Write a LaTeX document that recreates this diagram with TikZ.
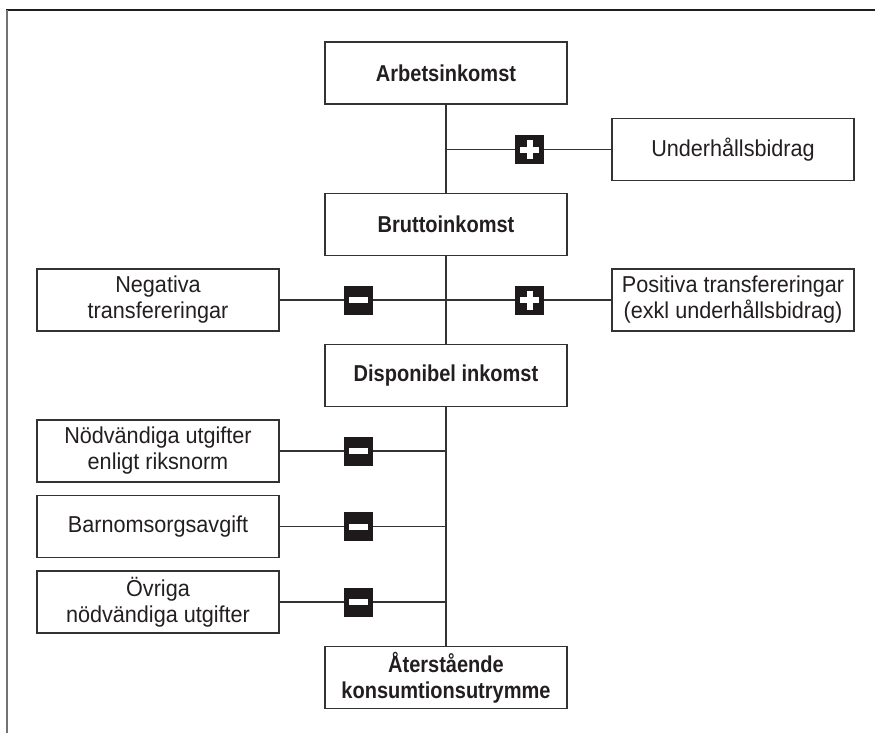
\documentclass[tikz,border=0pt]{standalone}
\usepackage{fontspec}
\setmainfont{Liberation Sans}[FakeStretch=0.94, BoldFeatures={FakeStretch=0.87}]
\definecolor{linec}{HTML}{333333}
\definecolor{textc}{HTML}{231F20}
\definecolor{signc}{HTML}{1E1A1B}
\begin{document}
\begin{tikzpicture}[x=1pt,y=-1pt,
  box/.style={draw=linec, line width=1.2pt, minimum width=242pt, minimum height=62pt,
    inner sep=0pt, align=center, text=textc, font=\fontsize{23}{26}\selectfont},
  mainbox/.style={box, font=\fontsize{23}{26}\selectfont\bfseries},
  conn/.style={draw=linec, line width=1.2pt},
  sign/.style={fill=signc, minimum size=29pt, inner sep=0pt},
  plussign/.style={sign, path picture={
    \fill[white] ([xshift=-9.5pt,yshift=-3pt]path picture bounding box.center) rectangle ++(19pt,6pt);
    \fill[white] ([xshift=-3pt,yshift=-9.5pt]path picture bounding box.center) rectangle ++(6pt,19pt);}},
  minussign/.style={sign, path picture={
    \fill[white] ([xshift=-9.5pt,yshift=-3pt]path picture bounding box.center) rectangle ++(19pt,6pt);}},
  frametop/.style={draw=black!88, line width=1.6pt},
  frameleft/.style={draw=black!55, line width=1.8pt},
]
\useasboundingbox (0,0) rectangle (875,733);
\fill[white] (0,0) rectangle (875,733);
\draw[frametop] (6,10) -- (875,10);
\draw[frameleft] (7,10) -- (7,733);

% main column
\node[mainbox] (A) at (446,73) {Arbetsinkomst};
\node[mainbox] (B) at (446,224.5) {Bruttoinkomst};
\node[mainbox] (D) at (446,375.5) {Disponibel inkomst};
\node[mainbox] (E) at (446,677.5) {Återstående\\konsumtionsutrymme};

% side boxes
\node[box] (U) at (733,149.5) {Underhållsbidrag};
\node[box] (N) at (158,300) {Negativa\\transfereringar};
\node[box] (P) at (733,300) {Positiva transfereringar\\(exkl underhållsbidrag)};
\node[box] (R1) at (158,451) {Nödvändiga utgifter\\enligt riksnorm};
\node[box] (R2) at (158,526.5) {Barnomsorgsavgift};
\node[box] (R3) at (158,602) {Övriga\\nödvändiga utgifter};

% vertical spine
\draw[conn] (A) -- (B);
\draw[conn] (B) -- (D);
\draw[conn] (D) -- (E);

% sign markers
\node[plussign] (s1) at (529.5,149.5) {};
\node[minussign] (s2) at (358.5,300) {};
\node[plussign] (s3) at (529.5,300) {};
\node[minussign] (s4) at (358.5,451) {};
\node[minussign] (s5) at (358.5,526.5) {};
\node[minussign] (s6) at (358.5,602) {};

% horizontal connectors
\draw[conn] (U) -- (s1) -- (U -| A);
\draw[conn] (N) -- (s2) -- (N -| B);
\draw[conn] (P) -- (s3) -- (P -| B);
\draw[conn] (R1) -- (s4) -- (R1 -| D);
\draw[conn] (R2) -- (s5) -- (R2 -| D);
\draw[conn] (R3) -- (s6) -- (R3 -| D);
\end{tikzpicture}
\end{document}
